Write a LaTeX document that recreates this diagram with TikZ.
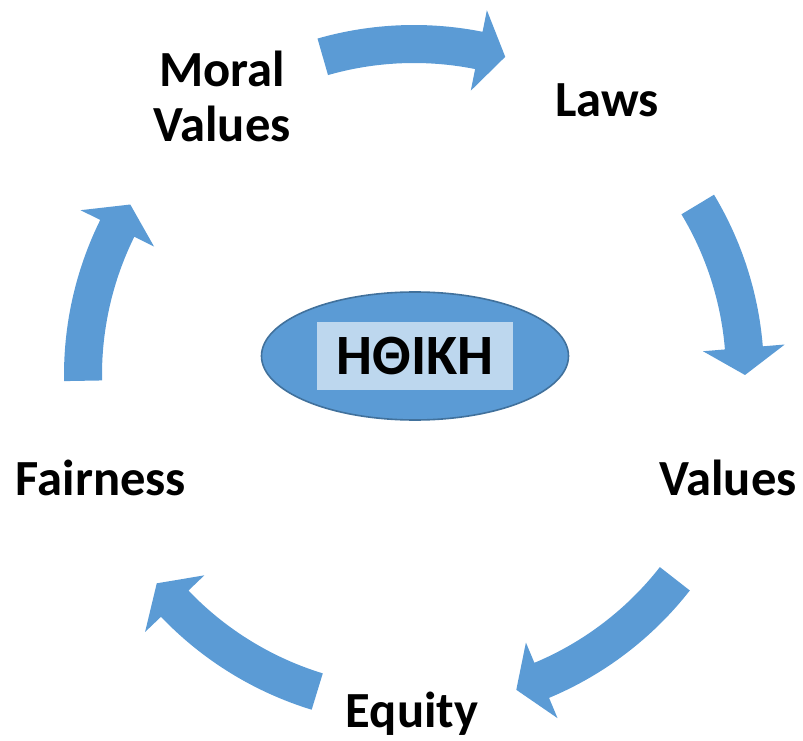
\documentclass[tikz,border=0pt]{standalone}
\usepackage{fontspec}
\setmainfont{Carlito}
\usepackage{xcolor}
\usetikzlibrary{shapes.geometric}
\definecolor{cycleblue}{RGB}{91,155,213}
\definecolor{cycleedge}{RGB}{65,113,156}
\definecolor{cyclelight}{RGB}{189,215,238}

\begin{document}
\begin{tikzpicture}[x=0.5pt, y=0.5pt]
  \tikzstyle{mytext}=[draw=none, text=black, align=center, inner sep=0pt,
    font=\fontsize{25.3}{27.5}\selectfont\bfseries];
  \tikzstyle{myarrow}=[fill=cycleblue, draw=none];
  \useasboundingbox (0,0) rectangle (803,740);
  %
  % cycle arrows
  \begin{scope}[shift={(414,365)}]
    \foreach \a/\b in {106/74, 31/0, -38/-72, -107/-141, 181/149} {
      \pgfmathsetmacro{\h}{\b+4.7}
      \fill[myarrow] (\a:312) -- (\a:350)
      arc[start angle=\a, end angle=\h, radius=350] -- (\h:372) -- (\b:331)
      -- (\h:290) -- (\h:312) arc[start angle=\h, end angle=\a, radius=312]
      -- cycle;
    }
  \end{scope}
  %
  % centre
  \node[ellipse, draw=cycleedge, line width=0.8pt, fill=cycleblue,
    minimum width=153.5pt, minimum height=64pt, inner sep=0pt] (ethics)
    at (415,384) {};
  \node[fill=cyclelight, minimum width=98pt, minimum height=34pt,
    inner sep=0pt, font=\fontsize{28.5}{30}\selectfont\bfseries]
    (ethicslabel) at (ethics.center) {ΗΘΙΚΗ};
  %
  % labels
  \node[mytext, anchor=base] (moral) at (222,598) {Moral\\Values};
  \node[mytext, anchor=base] (laws) at (607,623) {Laws};
  \node[mytext, anchor=base] (values) at (728,245) {Values};
  \node[mytext, anchor=base] (equity) at (412,13) {Equity};
  \node[mytext, anchor=base] (fairness) at (101,245) {Fairness};
\end{tikzpicture}
\end{document}
